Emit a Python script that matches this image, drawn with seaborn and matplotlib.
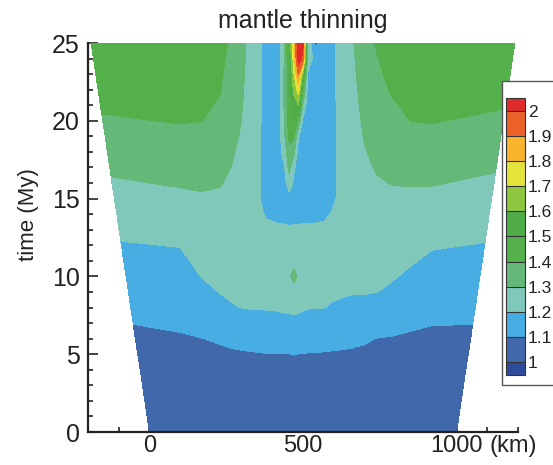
import numpy as np
import matplotlib
matplotlib.use("Agg")
import matplotlib.pyplot as plt
from matplotlib.patches import Rectangle
from matplotlib.ticker import MultipleLocator
import seaborn as sns

# ── data ────────────────────────────────────────────────────────────────────
# model times (My) of the mesh rows
t_rows = [0, 4, 5, 6, 7, 8, 9, 10, 11, 12, 13, 14, 15, 16, 17, 18, 19, 20, 21, 22, 23, 24, 25]
# model edges (km) at those times: the domain widens from 0-1000 km to about -190-1190 km
edge_left = [0, -30, -38, -46, -53, -61, -68, -76, -84, -91, -99, -106, -114, -122, -129,
             -137, -144, -152, -160, -167, -175, -182, -190]
edge_right = [1000, 1030, 1038, 1046, 1053, 1061, 1068, 1076, 1084, 1091, 1099, 1106, 1114,
              1122, 1129, 1137, 1144, 1152, 1160, 1167, 1175, 1182, 1190]
# fixed mesh columns (km) between the two edges
x_inner = [100, 170, 230, 270, 300, 340, 380, 420, 440, 455, 470, 485, 500, 515, 540,
           570, 595, 625, 660, 700, 740, 790, 850, 920]

# mantle thinning factor, one list per mesh column (left edge ... right edge), values at t_rows
thinning_cols = [
    [1.02, 1.066, 1.077, 1.089, 1.101, 1.119, 1.138, 1.157, 1.175, 1.194, 1.217, 1.241, 1.266, 1.290, 1.315, 1.341, 1.367, 1.392, 1.410, 1.425, 1.440, 1.455, 1.47],
    [1.02, 1.069, 1.082, 1.094, 1.109, 1.128, 1.146, 1.165, 1.183, 1.203, 1.229, 1.255, 1.282, 1.308, 1.333, 1.358, 1.383, 1.404, 1.417, 1.430, 1.444, 1.457, 1.47],
    [1.02, 1.072, 1.086, 1.099, 1.124, 1.150, 1.176, 1.202, 1.220, 1.237, 1.255, 1.273, 1.291, 1.311, 1.334, 1.357, 1.380, 1.401, 1.415, 1.429, 1.443, 1.456, 1.47],
    [1.02, 1.075, 1.089, 1.107, 1.140, 1.173, 1.203, 1.217, 1.231, 1.246, 1.260, 1.274, 1.289, 1.304, 1.321, 1.339, 1.356, 1.374, 1.391, 1.404, 1.413, 1.421, 1.43],
    [1.02, 1.077, 1.091, 1.116, 1.156, 1.196, 1.210, 1.221, 1.232, 1.243, 1.253, 1.264, 1.275, 1.286, 1.297, 1.307, 1.318, 1.328, 1.338, 1.349, 1.359, 1.369, 1.38],
    [1.02, 1.078, 1.093, 1.121, 1.163, 1.201, 1.209, 1.217, 1.226, 1.234, 1.242, 1.250, 1.259, 1.267, 1.275, 1.283, 1.292, 1.299, 1.304, 1.308, 1.312, 1.316, 1.32],
    [1.02, 1.080, 1.095, 1.128, 1.170, 1.205, 1.212, 1.218, 1.224, 1.230, 1.235, 1.240, 1.243, 1.246, 1.249, 1.252, 1.254, 1.256, 1.258, 1.260, 1.261, 1.262, 1.263],
    [1.02, 1.081, 1.098, 1.132, 1.174, 1.205, 1.215, 1.225, 1.232, 1.236, 1.225, 1.190, 1.16, 1.16, 1.16, 1.16, 1.16, 1.16, 1.16, 1.16, 1.16, 1.16, 1.16],
    [1.02, 1.082, 1.098, 1.136, 1.179, 1.207, 1.218, 1.228, 1.235, 1.238, 1.222, 1.165, 1.15, 1.15, 1.15, 1.15, 1.15, 1.15, 1.15, 1.15, 1.15, 1.15, 1.15],
    [1.02, 1.083, 1.099, 1.140, 1.183, 1.210, 1.220, 1.230, 1.236, 1.238, 1.220, 1.165, 1.155, 1.17, 1.198, 1.25, 1.29, 1.302, 1.32, 1.32, 1.32, 1.31, 1.29],
    [1.02, 1.084, 1.099, 1.142, 1.185, 1.210, 1.220, 1.280, 1.236, 1.238, 1.215, 1.16, 1.16, 1.26, 1.33, 1.38, 1.42, 1.45, 1.45, 1.45, 1.45, 1.48, 1.52],
    [1.02, 1.084, 1.101, 1.143, 1.187, 1.212, 1.222, 1.360, 1.236, 1.238, 1.220, 1.16, 1.15, 1.18, 1.22, 1.33, 1.42, 1.51, 1.55, 1.62, 1.69, 1.75, 1.78],
    [1.02, 1.083, 1.099, 1.140, 1.183, 1.210, 1.220, 1.280, 1.236, 1.238, 1.220, 1.16, 1.15, 1.15, 1.15, 1.16, 1.21, 1.38, 1.60, 1.75, 1.92, 2.06, 2.10],
    [1.02, 1.083, 1.098, 1.138, 1.179, 1.207, 1.218, 1.228, 1.235, 1.238, 1.222, 1.165, 1.15, 1.15, 1.15, 1.15, 1.15, 1.18, 1.28, 1.42, 1.58, 1.97, 2.02],
    [1.02, 1.082, 1.097, 1.134, 1.172, 1.203, 1.215, 1.225, 1.232, 1.236, 1.222, 1.165, 1.15, 1.15, 1.15, 1.15, 1.15, 1.15, 1.15, 1.18, 1.19, 1.28, 1.31],
    [1.02, 1.081, 1.097, 1.130, 1.169, 1.203, 1.213, 1.223, 1.230, 1.234, 1.222, 1.168, 1.15, 1.15, 1.15, 1.15, 1.15, 1.15, 1.15, 1.15, 1.15, 1.15, 1.08],
    [1.02, 1.080, 1.095, 1.125, 1.163, 1.201, 1.210, 1.220, 1.227, 1.232, 1.225, 1.18, 1.155, 1.155, 1.155, 1.155, 1.155, 1.155, 1.155, 1.155, 1.155, 1.155, 1.155],
    [1.02, 1.079, 1.094, 1.122, 1.159, 1.196, 1.207, 1.216, 1.224, 1.230, 1.230, 1.21, 1.17, 1.16, 1.16, 1.16, 1.16, 1.16, 1.16, 1.16, 1.16, 1.16, 1.16],
    [1.02, 1.078, 1.093, 1.118, 1.155, 1.191, 1.206, 1.214, 1.222, 1.228, 1.234, 1.238, 1.242, 1.245, 1.248, 1.250, 1.252, 1.254, 1.256, 1.258, 1.260, 1.262, 1.264],
    [1.02, 1.077, 1.091, 1.114, 1.150, 1.186, 1.203, 1.209, 1.214, 1.219, 1.225, 1.230, 1.236, 1.241, 1.246, 1.252, 1.257, 1.263, 1.268, 1.274, 1.279, 1.284, 1.29],
    [1.02, 1.075, 1.089, 1.107, 1.143, 1.179, 1.204, 1.214, 1.224, 1.234, 1.244, 1.255, 1.265, 1.275, 1.285, 1.295, 1.305, 1.314, 1.323, 1.332, 1.342, 1.351, 1.36],
    [1.02, 1.073, 1.086, 1.099, 1.132, 1.166, 1.201, 1.213, 1.227, 1.240, 1.253, 1.267, 1.280, 1.293, 1.306, 1.319, 1.331, 1.344, 1.356, 1.369, 1.381, 1.394, 1.41],
    [1.02, 1.071, 1.083, 1.096, 1.122, 1.153, 1.184, 1.208, 1.223, 1.239, 1.255, 1.270, 1.286, 1.302, 1.320, 1.338, 1.355, 1.373, 1.391, 1.409, 1.426, 1.443, 1.46],
    [1.02, 1.068, 1.080, 1.092, 1.109, 1.134, 1.159, 1.185, 1.208, 1.227, 1.246, 1.265, 1.285, 1.305, 1.329, 1.352, 1.376, 1.401, 1.414, 1.428, 1.442, 1.456, 1.47],
    [1.02, 1.066, 1.078, 1.090, 1.102, 1.123, 1.144, 1.165, 1.185, 1.207, 1.232, 1.256, 1.280, 1.305, 1.331, 1.356, 1.382, 1.404, 1.417, 1.430, 1.444, 1.457, 1.47],
    [1.02, 1.066, 1.077, 1.089, 1.101, 1.119, 1.138, 1.158, 1.177, 1.196, 1.218, 1.240, 1.262, 1.284, 1.308, 1.333, 1.358, 1.383, 1.405, 1.421, 1.438, 1.454, 1.47],
]

levels = [1.0, 1.1, 1.2, 1.3, 1.4, 1.5, 1.6, 1.7, 1.8, 1.9, 2.0]
level_labels = ["1", "1.1", "1.2", "1.3", "1.4", "1.5", "1.6", "1.7", "1.8", "1.9", "2"]
# below 1, ten bands, above 2
band_colors = ["#2f4b9b", "#4168aa", "#47ade2", "#80c8ba", "#64b978", "#54b04b",
               "#4fad47", "#8dc63f", "#e2e33b", "#f7b42c", "#eb6127", "#e02b2b"]

# ── figure ──────────────────────────────────────────────────────────────────
sns.set_theme(style="ticks")
plt.rcParams["font.family"] = ["Liberation Sans", "DejaVu Sans"]

X = np.column_stack([edge_left] + [np.full(len(t_rows), x) for x in x_inner] + [edge_right])
T = np.repeat(np.array(t_rows, dtype=float)[:, None], X.shape[1], axis=1)
Z = np.array(thinning_cols).T

fig = plt.figure(figsize=(5.53, 4.65), dpi=100)
ax = fig.add_axes([88 / 553, 33 / 465, 430 / 553, 389 / 465])
cf = ax.contourf(X, T, Z, levels=levels, colors=band_colors, extend="both")

ax.set_xlim(-200, 1200)
ax.set_ylim(0, 25)
ax.set_xticks([0, 500, 1000])
ax.set_xticklabels(["0", "500", "1000"])
ax.set_yticks([0, 5, 10, 15, 20, 25])
ax.xaxis.set_minor_locator(MultipleLocator(100))
ax.yaxis.set_minor_locator(MultipleLocator(1))
ax.tick_params(which="both", direction="in", color="#222222", width=1.2,
               top=False, right=False, labelsize=18, labelcolor="#222222")
ax.tick_params(which="major", length=7)
ax.tick_params(which="minor", length=3.5)
ax.tick_params(axis="x", pad=2, labelsize=17)
ax.tick_params(axis="y", pad=6)
sns.despine(ax=ax)
for side in ("left", "bottom"):
    ax.spines[side].set_linewidth(1.6)
    ax.spines[side].set_color("#222222")

ax.annotate("(km)", xy=(1000, 0), xycoords=("data", "axes fraction"),
            xytext=(24, -2), textcoords="offset points", ha="left", va="top",
            fontsize=17, color="#222222")
ax.set_title("mantle thinning", fontsize=18, pad=11, color="#222222")
ax.set_ylabel("time (My)", fontsize=16, color="#222222")
ax.yaxis.set_label_coords(-0.115, 0.56)

# legend-style box behind the colour bar
box = Rectangle((502 / 553, 80 / 465), 70 / 553, 304 / 465, transform=fig.transFigure,
                facecolor="white", edgecolor="#555555", linewidth=1.0, zorder=2)
fig.add_artist(box)

cax = fig.add_axes([506 / 553, 90 / 465, 19 / 553, 277 / 465])
cax.set_zorder(3)
cb = fig.colorbar(cf, cax=cax, extend="both", extendrect=True, extendfrac=0.05,
                  drawedges=True, ticks=levels)
cb.ax.set_yticklabels(level_labels)
cb.ax.tick_params(length=0, labelsize=12.5, pad=2, labelcolor="#222222")
cb.outline.set_linewidth(0.8)
cb.outline.set_edgecolor("#333333")
cb.dividers.set_color("#333333")
cb.dividers.set_linewidth(0.8)

fig.savefig("out.png", dpi=100)
